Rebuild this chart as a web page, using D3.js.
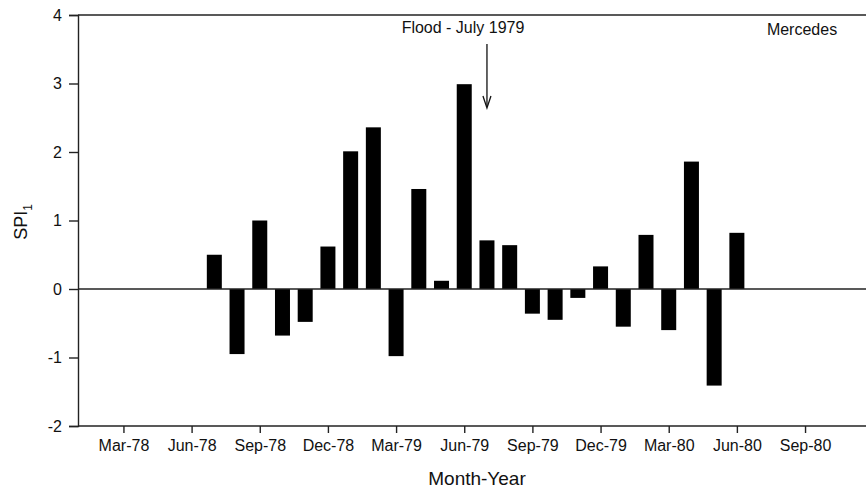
<!DOCTYPE html>
<html lang="en">
<head>
<meta charset="UTF-8">
<title>SPI Mercedes</title>
<script src="https://d3js.org/d3.v7.min.js"></script>
<style>
  body, html { margin: 0; padding: 0; background: #fff; }
  svg { display: block; font-family: 'Liberation Sans', Arial, sans-serif; }
</style>
</head>
<body>
<svg width="866" height="488"></svg>
<script>
// months since Jan-78 for each bar, and the SPI values
const months = ['Jul-78','Aug-78','Sep-78','Oct-78','Nov-78','Dec-78','Jan-79','Feb-79','Mar-79','Apr-79','May-79','Jun-79',
                'Jul-79','Aug-79','Sep-79','Oct-79','Nov-79','Dec-79','Jan-80','Feb-80','Mar-80','Apr-80','May-80','Jun-80'];
const monthIndex = [6,7,8,9,10,11,12,13,14,15,16,17,18,19,20,21,22,23,24,25,26,27,28,29];
const spi = [0.50,-0.95,1.00,-0.68,-0.48,0.62,2.01,2.36,-0.98,1.46,0.12,2.99,
             0.71,0.64,-0.36,-0.45,-0.13,0.33,-0.55,0.79,-0.60,1.86,-1.41,0.82];
const tickLabels = ['Mar-78','Jun-78','Sep-78','Dec-78','Mar-79','Jun-79','Sep-79','Dec-79','Mar-80','Jun-80','Sep-80'];
const tickIndex = [2,5,8,11,14,17,20,23,26,29,32];
const yTicks = [-2,-1,0,1,2,3,4];

const svg = d3.select('svg');
const plotLeft = 78, plotTop = 15, plotBottom = 426, plotRight = 866;
const ink = '#111';

const x = d3.scaleLinear().domain([0, 1]).range([plotLeft, plotLeft + 22.72]);
const y = d3.scaleLinear().domain([-2, 4]).range([plotBottom, plotTop]);

// bars
svg.append('g').selectAll('rect')
  .data(spi)
  .join('rect')
  .attr('x', (d, i) => x(monthIndex[i]) - 7.5)
  .attr('width', 15)
  .attr('y', d => y(Math.max(0, d)))
  .attr('height', d => Math.abs(y(d) - y(0)))
  .attr('fill', '#000');

// zero line and top border
svg.append('line').attr('x1', plotLeft).attr('x2', plotRight).attr('y1', y(0)).attr('y2', y(0))
  .attr('stroke', '#222').attr('stroke-width', 1.4);
svg.append('line').attr('x1', plotLeft).attr('x2', plotRight).attr('y1', y(4)).attr('y2', y(4))
  .attr('stroke', '#222').attr('stroke-width', 1.4);

// y axis
const yAxis = svg.append('g')
  .attr('transform', `translate(${plotLeft},0)`)
  .call(d3.axisLeft(y).tickValues(yTicks).tickSize(9).tickPadding(7).tickFormat(d => String(d)));
yAxis.select('.domain').attr('stroke', '#222').attr('stroke-width', 1.4);
yAxis.selectAll('.tick line').attr('stroke', '#222').attr('stroke-width', 1.4);
yAxis.selectAll('text').attr('font-size', 16).attr('fill', ink).attr('font-family', 'Liberation Sans, Arial, sans-serif');

// x axis
const xAxis = svg.append('g')
  .attr('transform', `translate(0,${plotBottom})`)
  .call(d3.axisBottom(x).tickValues(tickIndex).tickSize(7).tickPadding(7)
    .tickFormat((d, i) => tickLabels[i]));
xAxis.select('.domain').attr('d', `M${plotLeft},0H${plotRight}`).attr('stroke', '#222').attr('stroke-width', 1.4);
xAxis.selectAll('.tick line').attr('stroke', '#222').attr('stroke-width', 1.4);
xAxis.selectAll('text').attr('font-size', 16).attr('fill', ink).attr('font-family', 'Liberation Sans, Arial, sans-serif');

// axis titles
svg.append('text')
  .attr('x', 477).attr('y', 485)
  .attr('text-anchor', 'middle').attr('font-size', 19).attr('fill', ink)
  .text('Month-Year');

const yl = svg.append('text')
  .attr('transform', 'translate(27,222) rotate(-90)')
  .attr('text-anchor', 'middle').attr('font-size', 18).attr('fill', ink);
yl.append('tspan').text('SPI');
yl.append('tspan').attr('font-size', 12).attr('dy', 5).text('1');

// annotations
svg.append('text')
  .attr('x', 463).attr('y', 33)
  .attr('text-anchor', 'middle').attr('font-size', 16).attr('fill', ink)
  .text('Flood - July 1979');

const ax = x(18);
svg.append('line').attr('x1', ax).attr('x2', ax).attr('y1', 44).attr('y2', 107)
  .attr('stroke', ink).attr('stroke-width', 1.3);
svg.append('path')
  .attr('d', `M${ax - 4},${96} L${ax},${108} L${ax + 4},${96}`)
  .attr('fill', 'none').attr('stroke', ink).attr('stroke-width', 1.3);

svg.append('text')
  .attr('x', 802).attr('y', 35)
  .attr('text-anchor', 'middle').attr('font-size', 16).attr('fill', ink)
  .text('Mercedes');
</script>
</body>
</html>
